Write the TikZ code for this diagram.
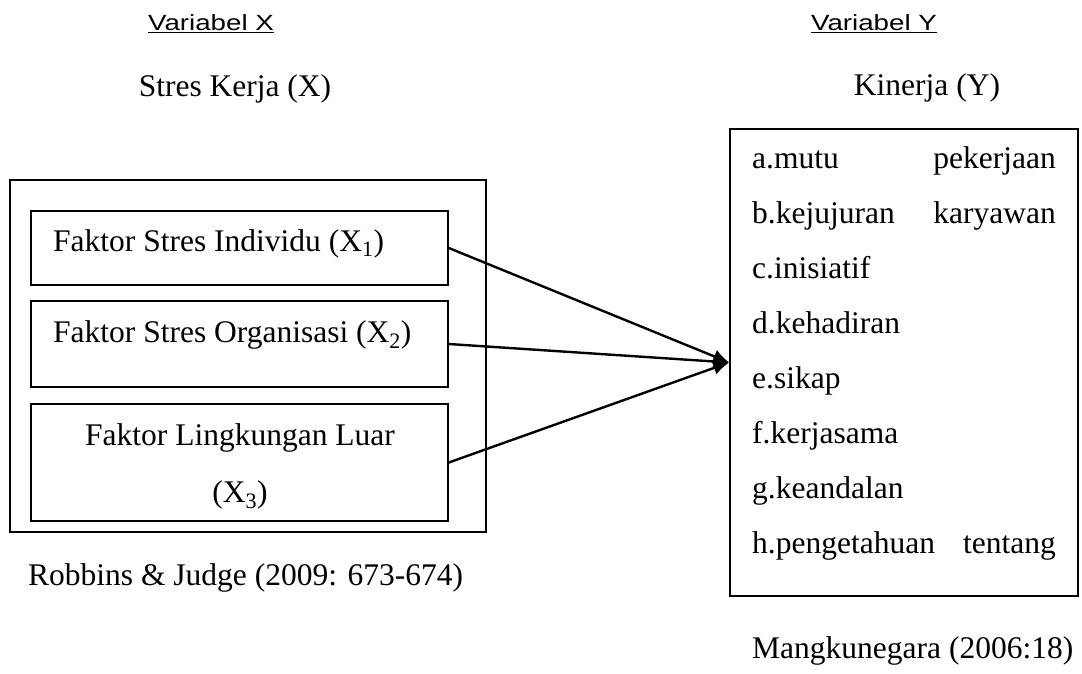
\documentclass[tikz,border=0pt]{standalone}
\usepackage{fontspec}
\setmainfont{Liberation Serif}
\newfontfamily\arialfont{Liberation Sans}
\usetikzlibrary{arrows.meta}
\tikzset{
  boxA/.style={draw, line width=1.6pt, inner sep=0pt, rectangle},
  txt/.style={inner sep=0pt, font=\fontsize{31.5}{36}\selectfont},
  hdr/.style={inner sep=0pt, font=\arialfont\fontsize{22}{26}\selectfont},
  conn/.style={line width=2.4pt, -{Latex[length=16pt,width=14pt]}}
}
\begin{document}
\begin{tikzpicture}[x=1pt,y=-1pt]
\useasboundingbox (0,0) rectangle (1082,674);
% headers
\node[hdr, anchor=base] (vx) at (211,31) {\scalebox{1.26}[1]{\underline{Variabel X}}};
\node[hdr, anchor=base] (vy) at (874,31) {\scalebox{1.26}[1]{\underline{Variabel Y}}};
\node[txt, anchor=base] (sk) at (235,97) {Stres Kerja (X)};
\node[txt, anchor=base] (kj) at (927,96) {Kinerja (Y)};
% left boxes
\node[boxA, minimum width=476pt, minimum height=352pt] (outer) at (248,356) {};
\node[boxA, minimum width=417pt, minimum height=74pt] (b1) at (239.5,248) {};
\node[boxA, minimum width=417pt, minimum height=86pt] (b2) at (239.5,344) {};
\node[boxA, minimum width=417pt, minimum height=117pt] (b3) at (239.5,462.5) {};
\node[txt, anchor=base west] (t1) at (53,251) {Faktor Stres Individu (X\textsubscript{1})};
\node[txt, anchor=base west] (t2) at (53,342) {Faktor Stres Organisasi (X\textsubscript{2})};
\node[txt, anchor=base] (t3a) at (240,445) {Faktor Lingkungan Luar};
\node[txt, anchor=base] (t3b) at (240,502) {(X\textsubscript{3})};
\node[txt, anchor=base west] (rj) at (28,585) {Robbins \& Judge (2009: 673-674)};
% right box
\node[boxA, minimum width=348pt, minimum height=467pt] (kin) at (904,362.5) {};
\node[txt, anchor=base west] (ia) at (752,168) {a.mutu};
\node[txt, anchor=base east] (ia2) at (1056,168) {pekerjaan};
\node[txt, anchor=base west] (ib) at (752,223) {b.kejujuran};
\node[txt, anchor=base east] (ib2) at (1056,223) {karyawan};
\node[txt, anchor=base west] (ic) at (752,278) {c.inisiatif};
\node[txt, anchor=base west] (id) at (752,333) {d.kehadiran};
\node[txt, anchor=base west] (ie) at (752,388) {e.sikap};
\node[txt, anchor=base west] (if) at (752,443) {f.kerjasama};
\node[txt, anchor=base west] (ig) at (752,498) {g.keandalan};
\node[txt, anchor=base west] (ih) at (752,553) {h.pengetahuan};
\node[txt, anchor=base east] (ih2) at (1056,553) {tentang};
\node[txt, anchor=base west] (mk) at (752,658) {Mangkunegara (2006:18)};
% connectors
\draw[conn] (b1.east) -- (kin.west);
\draw[conn] (b2.east) -- (kin.west);
\draw[conn] (b3.east) -- (kin.west);
\end{tikzpicture}
\end{document}
